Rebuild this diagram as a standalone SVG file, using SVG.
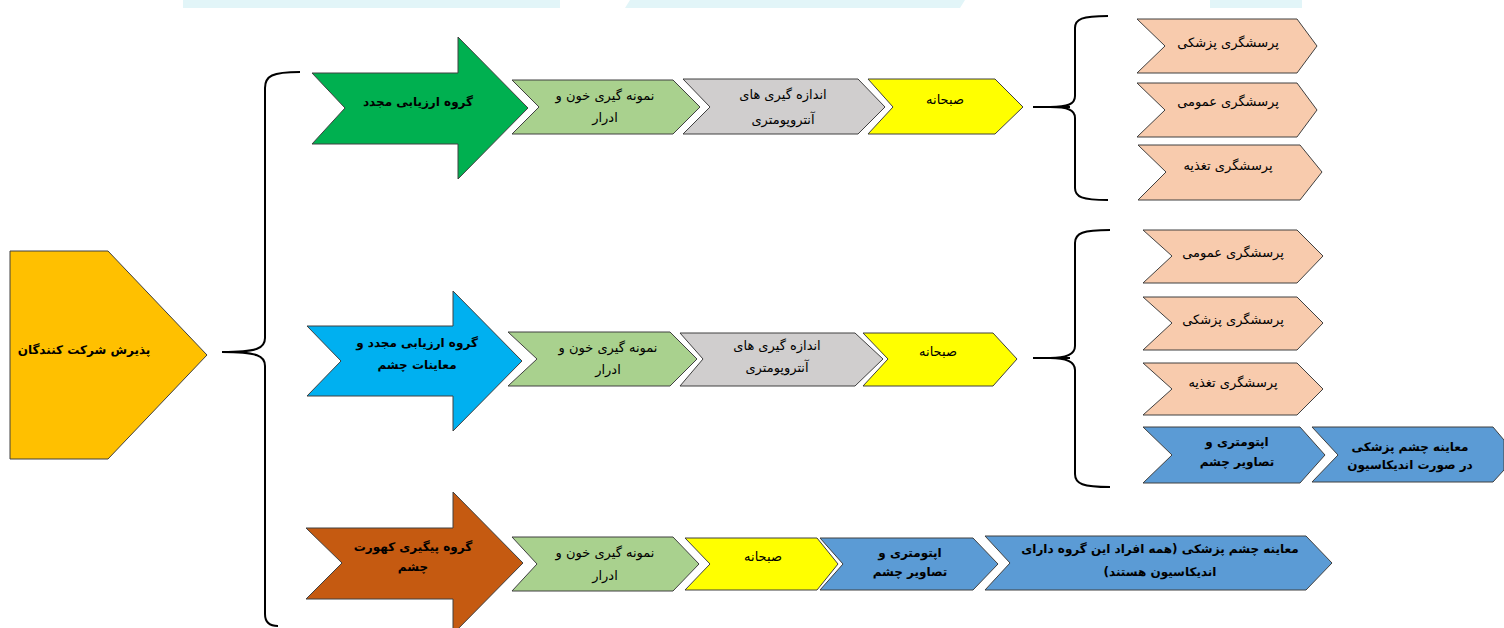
<svg xmlns="http://www.w3.org/2000/svg" width="1504" height="628" viewBox="0 0 1504 628">
<style>
.s{stroke:#404040;stroke-width:1}
.br{fill:none;stroke:#000;stroke-width:2}
text{font-family:"DejaVu Sans","Noto Sans",sans-serif;font-size:13px;fill:#000;text-anchor:middle;direction:rtl}
.b{font-weight:bold;font-size:12px}
.wm{fill:#e2f5f8}
</style>
<rect width="1504" height="628" fill="#fff"/>
<g id="watermark">
<rect class="wm" x="183" y="0" width="377" height="8"/>
<polygon class="wm" points="630,0 965,0 960,8 625,8"/>
<rect class="wm" x="1210" y="0" width="92" height="8"/>
</g>
<g id="connectors">
<path class="br" d="M300,72 C272,72 265,76 265,88 L265,338 C265,348 258,352 222,352 C258,352 265,356 265,366 L265,614 C265,622 270,626 278,626"/>
<line class="br" x1="1033" y1="107" x2="1070" y2="107"/>
<path class="br" d="M1108,16 C1082,16 1075,19 1075,28 L1075,96 C1075,104 1068,107 1050,107 C1068,107 1075,110 1075,118 L1075,188 C1075,197 1082,200 1108,200"/>
<line class="br" x1="1033" y1="358" x2="1070" y2="358"/>
<path class="br" d="M1110,230 C1083,230 1075,233 1075,243 L1075,346 C1075,354 1068,358 1050,358 C1068,358 1075,362 1075,370 L1075,474 C1075,484 1083,487 1110,487"/>
</g>
<g id="n-start"><polygon class="s" fill="#FFC000" points="10,251 108,251 207,355 108,459 10,459"/><text class="b" x="84" y="354">پذیرش شرکت کنندگان</text></g>

<g id="n-g1"><polygon class="s" fill="#00B050" points="312,73 458,73 458,37 528,108 458,179 458,144 312,144 345,108"/><text class="b" x="418" y="106">گروه ارزیابی مجدد</text></g>
<g id="n-g1a"><polygon class="s" fill="#A9D18E" points="512,80 673,80 700,107 673,134 512,134 539,107"/><text x="605" y="100">نمونه گیری خون و</text><text x="605" y="122">ادرار</text></g>
<g id="n-g1b"><polygon class="s" fill="#D0CECE" points="683,79 858,79 885,107 858,134 683,134 710,107"/><text x="783" y="99">اندازه گیری های</text><text x="783" y="124">آنتروپومتری</text></g>
<g id="n-g1c"><polygon class="s" fill="#FFFF00" points="868,79 995,79 1023,107 995,134 868,134 893,107"/><text x="945" y="104">صبحانه</text></g>
<g id="n-g1d"><polygon class="s" fill="#F8CBAD" points="1137,19 1297,19 1317,46 1297,73 1137,73 1165,46"/><text x="1228" y="47">پرسشگری پزشکی</text></g>
<g id="n-g1e"><polygon class="s" fill="#F8CBAD" points="1137,83 1297,83 1317,110 1297,137 1137,137 1165,110"/><text x="1228" y="106">پرسشگری عمومی</text></g>
<g id="n-g1f"><polygon class="s" fill="#F8CBAD" points="1138,145 1300,145 1322,172 1300,200 1138,200 1166,172"/><text x="1228" y="170">پرسشگری تغذیه</text></g>

<g id="n-g2"><polygon class="s" fill="#00B0F0" points="307,326 453,326 453,291 522,361 453,431 453,396 307,396 341,361"/><text class="b" x="417" y="347">گروه ارزیابی مجدد و</text><text class="b" x="417" y="369">معاینات چشم</text></g>
<g id="n-g2a"><polygon class="s" fill="#A9D18E" points="508,332 670,332 697,359 670,386 508,386 537,359"/><text x="608" y="352">نمونه گیری خون و</text><text x="608" y="374">ادرار</text></g>
<g id="n-g2b"><polygon class="s" fill="#D0CECE" points="680,333 855,333 883,359 855,386 680,386 703,359"/><text x="777" y="350">اندازه گیری های</text><text x="777" y="372">آنتروپومتری</text></g>
<g id="n-g2c"><polygon class="s" fill="#FFFF00" points="863,333 993,333 1017,359 993,386 863,386 888,359"/><text x="938" y="356">صبحانه</text></g>
<g id="n-g2d"><polygon class="s" fill="#F8CBAD" points="1143,230 1297,230 1323,256 1297,283 1143,283 1172,256"/><text x="1233" y="257">پرسشگری عمومی</text></g>
<g id="n-g2e"><polygon class="s" fill="#F8CBAD" points="1143,297 1297,297 1323,323 1297,350 1143,350 1172,323"/><text x="1233" y="324">پرسشگری پزشکی</text></g>
<g id="n-g2f"><polygon class="s" fill="#F8CBAD" points="1143,363 1297,363 1323,389 1297,415 1143,415 1172,389"/><text x="1233" y="387">پرسشگری تغذیه</text></g>
<g id="n-g2g"><polygon class="s" fill="#5B9BD5" points="1143,427 1300,427 1325,455 1300,483 1143,483 1172,455"/><text class="b" x="1237" y="446">اپتومتری و</text><text class="b" x="1237" y="466">تصاویر چشم</text></g>
<g id="n-g2h"><polygon class="s" fill="#5B9BD5" points="1312,427 1493,427 1504,440 1504,470 1493,482 1312,482 1338,455"/><text class="b" x="1410" y="451">معاینه چشم پزشکی</text><text class="b" x="1410" y="469">در صورت اندیکاسیون</text></g>

<g id="n-g3"><polygon class="s" fill="#C55A11" points="306,528 453,528 453,492 523,563 453,634 453,599 306,599 342,563"/><text class="b" x="413" y="551">گروه پیگیری کهورت</text><text class="b" x="413" y="571">چشم</text></g>
<g id="n-g3a"><polygon class="s" fill="#A9D18E" points="512,537 673,537 699,564 673,591 512,591 537,564"/><text x="605" y="557">نمونه گیری خون و</text><text x="605" y="580">ادرار</text></g>
<g id="n-g3b"><polygon class="s" fill="#FFFF00" points="685,538 817,538 838,564 817,590 685,590 710,564"/><text x="763" y="561">صبحانه</text></g>
<g id="n-g3c"><polygon class="s" fill="#5B9BD5" points="820,538 973,538 998,564 973,590 820,590 843,564"/><text class="b" x="910" y="557">اپتومتری و</text><text class="b" x="910" y="576">تصاویر چشم</text></g>
<g id="n-g3d"><polygon class="s" fill="#5B9BD5" points="985,536 1306,536 1332,563 1306,590 985,590 1010,563"/><text class="b" x="1160" y="553">معاینه چشم پزشکی (همه افراد این گروه دارای</text><text class="b" x="1160" y="576">اندیکاسیون هستند)</text></g>
</svg>
